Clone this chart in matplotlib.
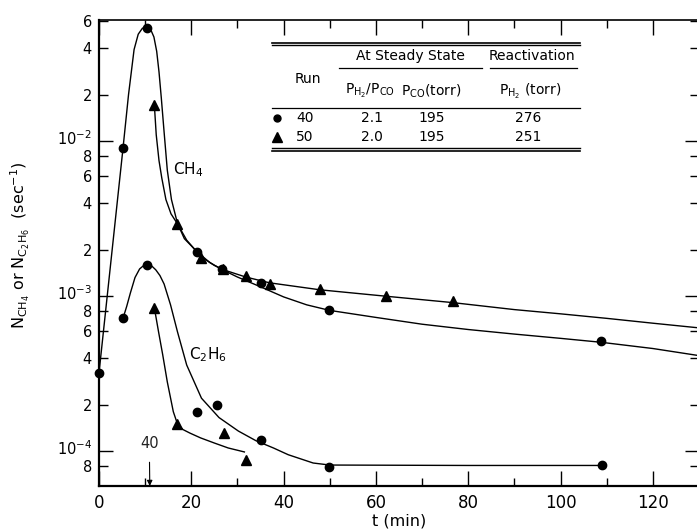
import matplotlib
matplotlib.use("Agg")
import matplotlib.pyplot as plt
from matplotlib.lines import Line2D
from matplotlib.transforms import ScaledTranslation
from matplotlib.ticker import FixedLocator, FixedFormatter, NullFormatter

plt.rcParams["font.family"] = "DejaVu Sans"
plt.rcParams["mathtext.fontset"] = "dejavusans"

# ── data ──────────────────────────────────────────────────────────────────────
# run 40 (circles), run 50 (triangles); time in min, rate in 1/sec
ch4_40_t = [0, 5.2, 10.3, 21.3, 26.6, 35.0, 49.8, 108.7]
ch4_40_v = [3.2e-4, 9.0e-3, 5.4e-2, 1.93e-3, 1.49e-3, 1.21e-3, 8.1e-4, 5.13e-4]
ch4_50_t = [12.0, 17.0, 22.1, 26.9, 31.8, 37.0, 47.9, 62.2, 76.6]
ch4_50_v = [1.7e-2, 2.93e-3, 1.77e-3, 1.5e-3, 1.35e-3, 1.2e-3, 1.12e-3, 1.01e-3, 9.3e-4]

c2h6_40_t = [5.2, 10.5, 21.3, 25.5, 35.0, 49.9, 108.9]
c2h6_40_v = [7.2e-4, 1.58e-3, 1.79e-4, 2.0e-4, 1.19e-4, 7.9e-5, 8.1e-5]
c2h6_50_t = [12.0, 17.0, 27.1, 31.8]
c2h6_50_v = [8.4e-4, 1.5e-4, 1.31e-4, 8.8e-5]

# hand drawn guide curves (knots)
ch4_40_curve_t = [0, 5.2, 6.4, 7.6, 8.5, 9.4, 10.3, 11.2, 11.9, 12.5, 13.0, 13.5,
                  14.1, 14.8, 15.7, 17.0, 18.5, 21.3, 24.0, 26.6, 30.0, 35.0, 40.0,
                  45.0, 50.0, 60.0, 70.0, 80.0, 90.0, 100.0, 108.7, 120.0, 130.0]
ch4_40_curve_v = [3.2e-4, 9.0e-3, 2.0e-2, 3.9e-2, 4.9e-2, 5.35e-2, 5.45e-2, 5.25e-2,
                  4.7e-2, 3.8e-2, 2.8e-2, 1.9e-2, 1.15e-2, 6.5e-3, 4.2e-3, 2.95e-3,
                  2.35e-3, 1.93e-3, 1.65e-3, 1.49e-3, 1.33e-3, 1.15e-3, 9.9e-4,
                  8.8e-4, 8.1e-4, 7.3e-4, 6.6e-4, 6.1e-4, 5.7e-4, 5.35e-4, 5.05e-4,
                  4.6e-4, 4.14e-4]
ch4_50_curve_t = [12.0, 12.4, 13.0, 13.6, 14.5, 15.6, 17.0, 19.0, 22.1, 25.0, 27.0,
                  31.8, 37.0, 47.9, 62.2, 76.6, 90.0, 100.0, 110.0, 120.0, 130.0]
ch4_50_curve_v = [1.7e-2, 1.1e-2, 7.5e-3, 5.8e-3, 4.2e-3, 3.4e-3, 2.93e-3, 2.3e-3,
                  1.8e-3, 1.58e-3, 1.48e-3, 1.33e-3, 1.22e-3, 1.1e-3, 1.0e-3, 9.1e-4,
                  8.2e-4, 7.7e-4, 7.2e-4, 6.7e-4, 6.25e-4]
c2h6_40_curve_t = [5.2, 6.0, 6.8, 7.8, 8.8, 9.7, 10.5, 11.4, 12.3, 13.2, 14.1, 15.5,
                   17.0, 19.0, 22.2, 26.0, 30.2, 34.0, 37.8, 41.0, 46.4, 50.0, 80.0, 108.9]
c2h6_40_curve_v = [7.2e-4, 8.6e-4, 1.05e-3, 1.32e-3, 1.5e-3, 1.58e-3, 1.6e-3, 1.57e-3,
                   1.48e-3, 1.36e-3, 1.2e-3, 8.8e-4, 5.9e-4, 3.6e-4, 2.2e-4, 1.65e-4,
                   1.35e-4, 1.17e-4, 1.05e-4, 9.5e-5, 8.4e-5, 8.15e-5, 8.1e-5, 8.1e-5]
c2h6_50_curve_t = [12.0, 12.9, 13.8, 14.8, 16.1, 17.0, 18.2, 19.7, 22.0, 25.0, 28.0, 31.5]
c2h6_50_curve_v = [8.4e-4, 5.9e-4, 4.2e-4, 2.8e-4, 1.8e-4, 1.5e-4, 1.38e-4, 1.31e-4,
                   1.22e-4, 1.13e-4, 1.05e-4, 9.9e-5]

y_ticks_major = [1e-2, 1e-3, 1e-4]
y_labels_major = [r"10$^{-2}$", r"10$^{-3}$", r"10$^{-4}$"]
y_ticks_minor = [6e-2, 4e-2, 2e-2, 8e-3, 6e-3, 4e-3, 2e-3,
                 8e-4, 6e-4, 4e-4, 2e-4, 8e-5]
y_labels_minor = ["6", "4", "2", "8", "6", "4", "2", "8", "6", "4", "2", "8"]
x_ticks_major = [0, 20, 40, 60, 80, 100, 120]
x_ticks_minor = [10, 30, 50, 70, 90, 110]

table_runs = ["40", "50"]
table_ratio = ["2.1", "2.0"]
table_pco = ["195", "195"]
table_ph2 = ["276", "251"]

# ── figure ────────────────────────────────────────────────────────────────────
W, H = 697, 530
fig = plt.figure(figsize=(W / 100, H / 100), dpi=100)
ax = fig.add_axes([99 / W, 1 - 486 / H, 600 / W, 466 / H])

def fx(px):
    return px / W

def fy(py):
    return 1 - py / H

lc = "black"
ax.plot(ch4_40_curve_t, ch4_40_curve_v, color=lc, lw=1.0)
ax.plot(ch4_50_curve_t, ch4_50_curve_v, color=lc, lw=1.0)
ax.plot(c2h6_40_curve_t, c2h6_40_curve_v, color=lc, lw=1.0)
ax.plot(c2h6_50_curve_t, c2h6_50_curve_v, color=lc, lw=1.0)

ax.plot(ch4_40_t, ch4_40_v, "o", color=lc, ms=6, clip_on=False, zorder=5)
ax.plot(c2h6_40_t, c2h6_40_v, "o", color=lc, ms=6, clip_on=False, zorder=5)
ax.plot(ch4_50_t, ch4_50_v, "^", color=lc, ms=7, zorder=5)
ax.plot(c2h6_50_t, c2h6_50_v, "^", color=lc, ms=7, zorder=5)

ax.set_yscale("log")
ax.set_xlim(0, 130)
ax.set_ylim(5.97e-5, 6.05e-2)

ax.yaxis.set_major_locator(FixedLocator(y_ticks_major))
ax.yaxis.set_major_formatter(FixedFormatter(y_labels_major))
ax.yaxis.set_minor_locator(FixedLocator(y_ticks_minor))
ax.yaxis.set_minor_formatter(FixedFormatter(y_labels_minor))
ax.xaxis.set_major_locator(FixedLocator(x_ticks_major))
ax.xaxis.set_minor_locator(FixedLocator(x_ticks_minor))
ax.xaxis.set_minor_formatter(NullFormatter())

ax.tick_params(which="both", direction="in", top=True, right=True,
               labelsize=10.5, width=1.0, pad=5)
ax.tick_params(which="major", length=10)
ax.tick_params(which="minor", length=6.5)
ax.tick_params(axis="x", which="major", length=11)
ax.tick_params(axis="x", which="minor", length=6)
ax.tick_params(axis="x", labelsize=12, pad=6)

# decade labels sit a little higher, as in the original
shift_up = ScaledTranslation(0, 0.03, fig.dpi_scale_trans)
for lbl in ax.yaxis.get_majorticklabels():
    lbl.set_transform(lbl.get_transform() + shift_up)
    lbl.set_verticalalignment("center")

for s in ["left", "bottom"]:
    ax.spines[s].set_linewidth(1.6)
ax.spines["top"].set_linewidth(1.2)
ax.spines["right"].set_visible(False)

ax.set_xlabel("t (min)", fontsize=11.5, labelpad=1)
fig.text(fx(20), fy(245), r"N$_{\mathregular{CH_4}}$ or N$_{\mathregular{C_2H_6}}$  (sec$^{-1}$)",
         rotation=90, ha="center", va="center", fontsize=11.5)

ax.text(16.1, 6.6e-3, r"CH$_4$", fontsize=11, va="center", ha="left")
ax.text(19.6, 4.2e-4, r"C$_2$H$_6$", fontsize=11, va="center", ha="left")

ax.annotate("40", xy=(11, 5.97e-5), xytext=(10.9, 1.12e-4), ha="center", va="center",
            fontsize=10.5, color="#222222",
            arrowprops=dict(arrowstyle="-|>", color=lc, lw=0.8, shrinkA=6, shrinkB=0,
                            mutation_scale=8))

# ── inset table ───────────────────────────────────────────────────────────────
def hline(y, x0, x1, lw=1.0):
    fig.add_artist(Line2D([fx(x0), fx(x1)], [fy(y), fy(y)], color=lc, lw=lw))

hline(42.7, 272, 580, 1.2)
hline(45.3, 272, 580, 1.0)
hline(68.3, 339, 482, 0.9)
hline(68.3, 490, 577, 0.9)
hline(108.3, 272, 580, 0.9)
hline(147.7, 272, 580, 1.0)
hline(150.5, 272, 580, 1.2)

tfs = 10
fig.text(fx(308), fy(79), "Run", ha="center", va="center", fontsize=tfs)
fig.text(fx(410), fy(56), "At Steady State", ha="center", va="center", fontsize=tfs)
fig.text(fx(532), fy(56), "Reactivation", ha="center", va="center", fontsize=tfs)
fig.text(fx(370), fy(91), r"P$_{\mathregular{H_2}}$/P$_{\mathregular{CO}}$",
         ha="center", va="center", fontsize=tfs)
fig.text(fx(431), fy(91), r"P$_{\mathregular{CO}}$(torr)", ha="center", va="center", fontsize=tfs)
fig.text(fx(530), fy(91), r"P$_{\mathregular{H_2}}$ (torr)", ha="center", va="center", fontsize=tfs)

row_y = [118, 137]
row_marker = ["o", "^"]
row_ms = [5, 7]
for i in range(len(table_runs)):
    fig.add_artist(Line2D([fx(277)], [fy(row_y[i])], marker=row_marker[i], ms=row_ms[i],
                          color=lc, lw=0))
    fig.text(fx(305), fy(row_y[i]), table_runs[i], ha="center", va="center", fontsize=tfs)
    fig.text(fx(372), fy(row_y[i]), table_ratio[i], ha="center", va="center", fontsize=tfs)
    fig.text(fx(432), fy(row_y[i]), table_pco[i], ha="center", va="center", fontsize=tfs)
    fig.text(fx(528), fy(row_y[i]), table_ph2[i], ha="center", va="center", fontsize=tfs)

fig.savefig("out.png", dpi=100)
